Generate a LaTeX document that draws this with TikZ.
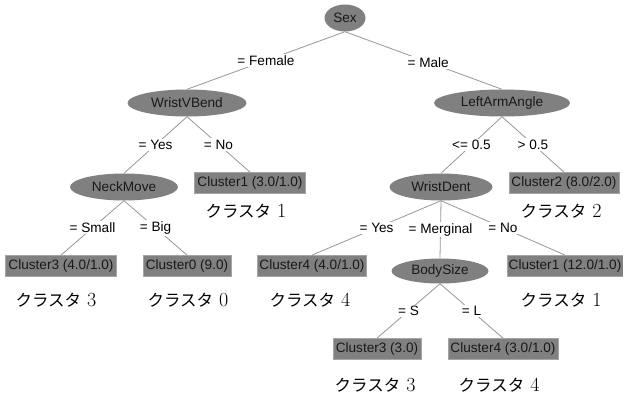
\documentclass[tikz,border=0pt]{standalone}
\usepackage{fontspec}
\usetikzlibrary{shapes.geometric}
\newfontfamily\arialf{Liberation Sans}
\newfontfamily\cjk{Noto Sans CJK JP}
\definecolor{nodegray}{RGB}{128,128,128}
\definecolor{edgegray}{RGB}{150,150,150}
\definecolor{boxborder}{RGB}{165,165,165}
\definecolor{txtdark}{RGB}{25,25,25}
\newcommand{\klab}[1]{{\cjk\fontsize{16.5}{16.5}\selectfont クラスタ}\hspace{6pt}{\fontsize{20}{20}\selectfont #1}}
\begin{document}
\begin{tikzpicture}[x=1pt,y=-1pt,
  inner/.style={ellipse,fill=nodegray,draw=none,inner sep=0pt,minimum height=27pt,
    font=\arialf\fontsize{13.6}{13.6}\selectfont,text=txtdark},
  leaf/.style={rectangle,fill=nodegray,draw=boxborder,line width=0.8pt,inner sep=0pt,minimum height=21pt,
    font=\arialf\fontsize{13.6}{13.6}\selectfont,text=txtdark},
  edge/.style={draw=edgegray,line width=0.8pt},
  elabel/.style={fill=white,inner sep=1.5pt,font=\arialf\fontsize{13.6}{13.6}\selectfont,text=black},
  jp/.style={text=black,inner sep=0pt}]
\useasboundingbox (0,0) rectangle (623,396);
% inner nodes
\node[inner,minimum width=41pt] (sex) at (345,18) {Sex};
\node[inner,minimum width=119pt] (wvb) at (187,103) {WristVBend};
\node[inner,minimum width=108pt] (neck) at (124,187) {NeckMove};
\node[inner,minimum width=136pt] (laa) at (502,103) {LeftArmAngle};
\node[inner,minimum width=103pt] (wd) at (441,187) {WristDent};
\node[inner,minimum width=97pt,minimum height=25pt] (body) at (440,271) {BodySize};
% leaves
\node[leaf,minimum width=111pt] (c1a) at (250,183) {Cluster1 (3.0/1.0)};
\node[leaf,minimum width=110pt] (c2) at (564,183) {Cluster2 (8.0/2.0)};
\node[leaf,minimum width=111pt] (c3a) at (61,266) {Cluster3 (4.0/1.0)};
\node[leaf,minimum width=88pt] (c0) at (187,266) {Cluster0 (9.0)};
\node[leaf,minimum width=109pt] (c4a) at (312,266) {Cluster4 (4.0/1.0)};
\node[leaf,minimum width=116pt] (c1b) at (565,266) {Cluster1 (12.0/1.0)};
\node[leaf,minimum width=88pt] (c3b) at (377,349) {Cluster3 (3.0)};
\node[leaf,minimum width=110pt] (c4b) at (503,349) {Cluster4 (3.0/1.0)};
% edges with labels
\draw[edge] (sex.south) -- node[elabel]{= Female} (wvb.north);
\draw[edge] (sex.south) -- node[elabel,pos=0.53]{= Male} (laa.north);
\draw[edge] (wvb.south) -- node[elabel]{= Yes} (neck.north);
\draw[edge] (wvb.south) -- node[elabel]{= No} (c1a.north);
\draw[edge] (neck.south) -- node[elabel]{= Small} (c3a.north);
\draw[edge] (neck.south) -- node[elabel]{= Big} (c0.north);
\draw[edge] (laa.south) -- node[elabel]{<= 0.5} (wd.north);
\draw[edge] (laa.south) -- node[elabel]{> 0.5} (c2.north);
\draw[edge] (wd.south) -- node[elabel]{= Yes} (c4a.north);
\draw[edge] (wd.south) -- node[elabel]{= Merginal} (body.north);
\draw[edge] (wd.south) -- node[elabel]{= No} (c1b.north);
\draw[edge] (body.south) -- node[elabel]{= S} (c3b.north);
\draw[edge] (body.south) -- node[elabel]{= L} (c4b.north);
% Japanese annotations
\node[jp] (j1a) at (246,211) {\klab{1}};
\node[jp] (j2) at (561,211) {\klab{2}};
\node[jp] (j3a) at (56,300) {\klab{3}};
\node[jp] (j0) at (188,300) {\klab{0}};
\node[jp] (j4a) at (310,300) {\klab{4}};
\node[jp] (j1b) at (561,300) {\klab{1}};
\node[jp] (j3b) at (375,385) {\klab{3}};
\node[jp] (j4b) at (499,385) {\klab{4}};
\end{tikzpicture}
\end{document}
